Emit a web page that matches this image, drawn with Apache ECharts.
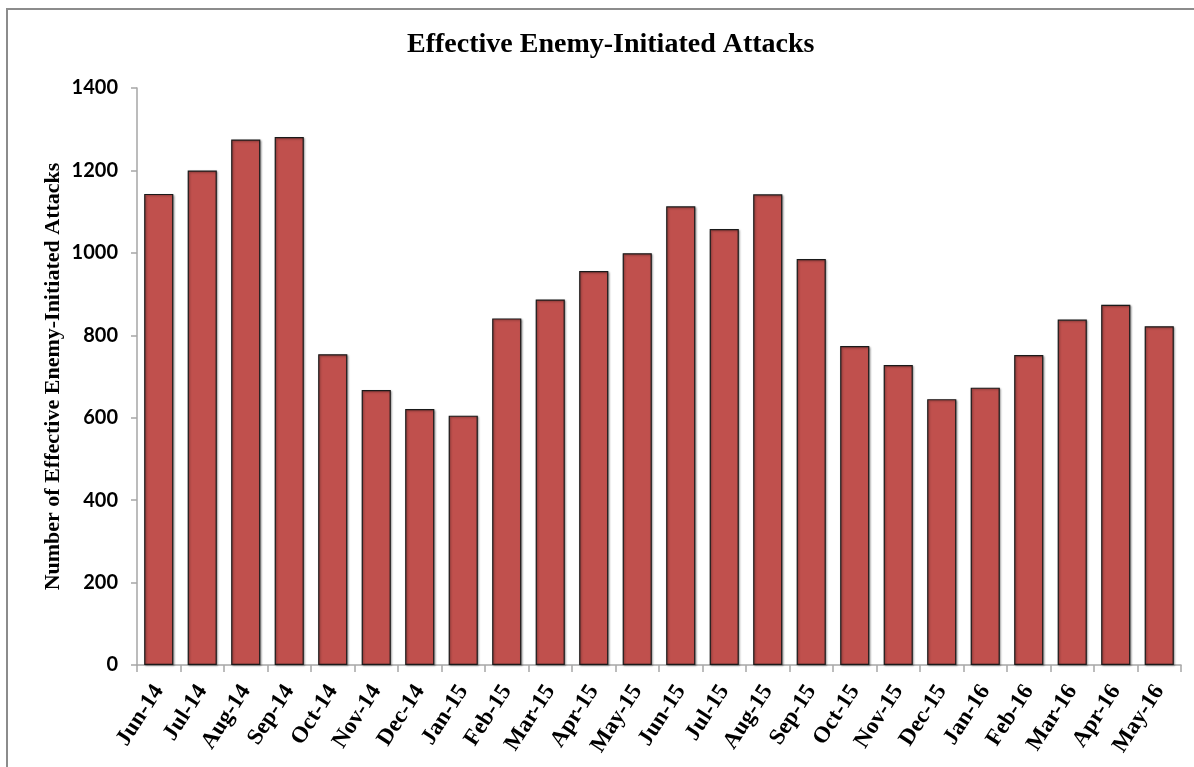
<!DOCTYPE html>
<html>
<head>
<meta charset="utf-8">
<script src="https://cdn.jsdelivr.net/npm/echarts@6/dist/echarts.min.js"></script>
<style>
html,body{margin:0;padding:0;background:#fff;}
#chart{width:1194px;height:767px;}
</style>
</head>
<body>
<div id="chart"></div>
<script>
const months = ['Jun-14','Jul-14','Aug-14','Sep-14','Oct-14','Nov-14','Dec-14','Jan-15','Feb-15','Mar-15','Apr-15','May-15','Jun-15','Jul-15','Aug-15','Sep-15','Oct-15','Nov-15','Dec-15','Jan-16','Feb-16','Mar-16','Apr-16','May-16'];
const attacks = [1143,1200,1275,1281,754,667,621,605,841,887,956,999,1113,1058,1142,985,774,728,645,673,752,838,874,822];
const yMin = 0, yMax = 1400, yStep = 200;

const chart = echarts.init(document.getElementById('chart'));
chart.setOption({
  animation: false,
  backgroundColor: '#fff',
  graphic: [{
    type: 'rect',
    shape: { x: 7, y: 9, width: 1200, height: 770 },
    style: { fill: 'none', stroke: '#8c8c8c', lineWidth: 2 },
    silent: true
  }],
  title: {
    text: 'Effective Enemy-Initiated Attacks',
    left: 402,
    top: 26,
    textStyle: { fontFamily: 'Liberation Serif', fontWeight: 'bold', fontSize: 28, color: '#000' }
  },
  grid: { left: 137, right: 13, top: 88, bottom: 102, containLabel: false },
  xAxis: {
    type: 'category',
    data: months,
    axisLine: { lineStyle: { color: '#a6a6a6', width: 1.5 } },
    axisTick: { show: true, length: 7, lineStyle: { color: '#a6a6a6', width: 1.5 } },
    axisLabel: {
      rotate: 57,
      margin: 22,
      interval: 0,
      fontFamily: 'Liberation Serif',
      fontWeight: 'bold',
      fontSize: 23,
      color: '#000'
    }
  },
  yAxis: {
    type: 'value',
    min: yMin, max: yMax, interval: yStep,
    name: 'Number of Effective Enemy-Initiated Attacks',
    nameLocation: 'middle',
    nameRotate: 90,
    nameGap: 73,
    nameMoveOverlap: false,
    nameTextStyle: { fontFamily: 'Liberation Serif', fontWeight: 'bold', fontSize: 22, color: '#000' },
    axisLine: { show: true, lineStyle: { color: '#a6a6a6', width: 1.5 } },
    axisTick: { show: true, length: 6, inside: false, lineStyle: { color: '#a6a6a6', width: 1.5 } },
    splitLine: { show: false },
    axisLabel: {
      margin: 19,
      formatter: function (v) { return String(v); },
      fontFamily: 'Lato', fontWeight: 'bold', fontSize: 20, color: '#000'
    }
  },
  series: [{
    type: 'bar',
    data: attacks,
    barCategoryGap: '33%',
    itemStyle: {
      color: '#C0504D',
      borderColor: '#1a1a1a',
      borderWidth: 1.2,
      shadowColor: 'rgba(0,0,0,0.35)',
      shadowBlur: 2,
      shadowOffsetX: 1,
      shadowOffsetY: 1
    }
  }]
});
</script>
</body>
</html>
